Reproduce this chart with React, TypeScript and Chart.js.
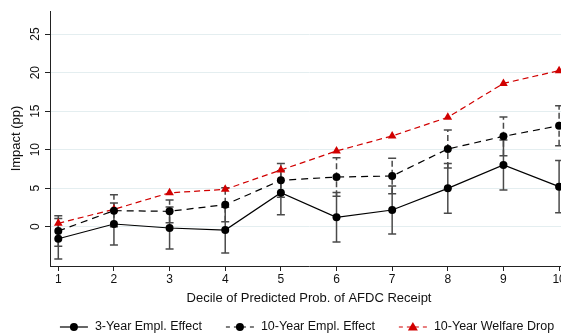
import React, { useEffect, useRef } from 'react';
import { Chart, registerables } from 'chart.js';

Chart.register(...registerables);

const deciles = [1, 2, 3, 4, 5, 6, 7, 8, 9, 10];
const empl3 = [-1.56, 0.35, -0.17, -0.43, 4.42, 1.22, 2.17, 4.98, 8.01, 5.2];
const empl3Lo = [-4.2, -2.38, -2.9, -3.4, 1.56, -2.0, -0.95, 1.74, 4.77, 1.82];
const empl3Hi = [1.08, 3.08, 2.56, 2.54, 7.28, 4.44, 5.29, 8.22, 11.25, 8.58];
const empl10 = [-0.56, 2.08, 2.0, 2.86, 6.02, 6.45, 6.58, 10.09, 11.73, 13.1];
const empl10Lo = [-2.55, 0.0, 0.53, 0.65, 3.84, 3.94, 4.28, 7.62, 9.21, 10.5];
const empl10Hi = [1.43, 4.16, 3.47, 5.07, 8.2, 8.96, 8.88, 12.56, 14.25, 15.7];
const welfare10 = [0.44, 2.26, 4.4, 4.85, 7.36, 9.83, 11.78, 14.2, 18.6, 20.26];
const yTicks = [0, 5, 10, 15, 20, 25];
const seriesNames = ['3-Year Empl. Effect', '10-Year Empl. Effect', '10-Year Welfare Drop'];
const xTitle = 'Decile of Predicted Prob. of AFDC Receipt';
const yTitle = 'Impact (pp)';

const FONT = '"Liberation Sans", Arial, sans-serif';
const RED = '#d10000';
const BLACK = '#000000';

const overlay = {
  id: 'overlay',
  beforeDatasetsDraw(chart: any) {
    const { ctx } = chart;
    const x = chart.scales.x;
    const y = chart.scales.y;
    const drawBars = (lo: number[], hi: number[], dash: number[]) => {
      ctx.save();
      ctx.strokeStyle = '#4a4a4a';
      ctx.lineWidth = 1.5;
      for (let i = 0; i < deciles.length; i++) {
        const px = x.getPixelForValue(deciles[i]);
        const p1 = y.getPixelForValue(lo[i]);
        const p2 = y.getPixelForValue(hi[i]);
        ctx.setLineDash(dash);
        ctx.beginPath();
        ctx.moveTo(px, p1);
        ctx.lineTo(px, p2);
        ctx.stroke();
        ctx.setLineDash([]);
        ctx.beginPath();
        ctx.moveTo(px - 4, p1);
        ctx.lineTo(px + 4, p1);
        ctx.moveTo(px - 4, p2);
        ctx.lineTo(px + 4, p2);
        ctx.stroke();
      }
      ctx.restore();
    };
    drawBars(empl3Lo, empl3Hi, []);
    drawBars(empl10Lo, empl10Hi, [6, 3]);
  },
  afterDraw(chart: any) {
    const { ctx, chartArea } = chart;
    const y = chart.scales.y;
    ctx.save();
    ctx.fillStyle = '#111';
    ctx.font = `12px ${FONT}`;
    ctx.textAlign = 'center';
    ctx.textBaseline = 'middle';
    for (const t of yTicks) {
      const py = y.getPixelForValue(t);
      ctx.save();
      ctx.translate(36, py);
      ctx.rotate(-Math.PI / 2);
      ctx.fillText(String(t), 0, 0);
      ctx.restore();
    }
    // legend
    ctx.font = `12.5px ${FONT}`;
    const styles = [
      { color: BLACK, dash: [] as number[], marker: 'circle' },
      { color: BLACK, dash: [4, 4], marker: 'circle' },
      { color: RED, dash: [4, 4], marker: 'triangle' },
    ];
    const lineLen = 28;
    const gapText = 7;
    const gapItem = 24;
    const widths = seriesNames.map((n) => ctx.measureText(n).width);
    const total = widths.reduce((a, b) => a + b, 0) + seriesNames.length * (lineLen + gapText) + gapItem * (seriesNames.length - 1);
    let cx = (chartArea.left + chartArea.right) / 2 - total / 2 - 2;
    const ly = 327;
    seriesNames.forEach((name, i) => {
      const s = styles[i];
      ctx.strokeStyle = s.color;
      ctx.fillStyle = s.color;
      ctx.lineWidth = 1.2;
      ctx.setLineDash(s.dash);
      ctx.beginPath();
      ctx.moveTo(cx, ly);
      ctx.lineTo(cx + lineLen, ly);
      ctx.stroke();
      ctx.setLineDash([]);
      const mx = cx + lineLen / 2;
      ctx.beginPath();
      if (s.marker === 'circle') {
        ctx.arc(mx, ly, 4, 0, Math.PI * 2);
      } else {
        ctx.moveTo(mx, ly - 5);
        ctx.lineTo(mx + 5, ly + 3.5);
        ctx.lineTo(mx - 5, ly + 3.5);
        ctx.closePath();
      }
      ctx.fill();
      ctx.fillStyle = '#111';
      ctx.textAlign = 'left';
      ctx.fillText(name, cx + lineLen + gapText, ly);
      cx += lineLen + gapText + widths[i] + gapItem;
    });
    ctx.restore();
  },
};

export default function App() {
  const ref = useRef<HTMLCanvasElement>(null);
  useEffect(() => {
    if (!ref.current) return;
    const chart = new Chart(ref.current, {
      type: 'line',
      data: {
        datasets: [
          {
            label: seriesNames[0],
            data: deciles.map((d, i) => ({ x: d, y: empl3[i] })),
            borderColor: BLACK,
            backgroundColor: BLACK,
            borderWidth: 1.2,
            pointRadius: 4,
            pointStyle: 'circle',
            pointBorderWidth: 0,
            tension: 0,
          },
          {
            label: seriesNames[1],
            data: deciles.map((d, i) => ({ x: d, y: empl10[i] })),
            borderColor: BLACK,
            backgroundColor: BLACK,
            borderWidth: 1.2,
            borderDash: [7, 5],
            pointRadius: 4,
            pointStyle: 'circle',
            pointBorderWidth: 0,
            tension: 0,
          },
          {
            label: seriesNames[2],
            data: deciles.map((d, i) => ({ x: d, y: welfare10[i] })),
            borderColor: RED,
            backgroundColor: RED,
            borderWidth: 1.2,
            borderDash: [6, 4],
            pointRadius: 5,
            pointStyle: 'triangle',
            pointBorderWidth: 0,
            tension: 0,
          },
        ],
      },
      options: {
        responsive: false,
        animation: false,
        devicePixelRatio: 1,
        layout: { padding: { left: 0, top: 11, right: 12, bottom: 29 } },
        plugins: { legend: { display: false }, tooltip: { enabled: false } },
        scales: {
          x: {
            type: 'linear',
            min: 0.851,
            max: 10.16,
            afterBuildTicks: (s: any) => {
              s.ticks = deciles.map((v) => ({ value: v }));
            },
            afterFit: (s: any) => {
              s.height = 40;
            },
            ticks: {
              color: '#111',
              font: { family: FONT, size: 12 },
              padding: 1,
              maxRotation: 0,
              callback: (v: any) => String(v),
            },
            grid: { drawOnChartArea: false, drawTicks: true, tickLength: 5, tickColor: '#222' },
            border: { color: '#222', width: 1 },
            title: {
              display: true,
              text: xTitle,
              color: '#111',
              font: { family: FONT, size: 13 },
              padding: { top: 0, bottom: 0 },
            },
          },
          y: {
            type: 'linear',
            min: -5.1,
            max: 28,
            afterBuildTicks: (s: any) => {
              s.ticks = yTicks.map((v) => ({ value: v }));
            },
            afterFit: (s: any) => {
              s.width = 50;
            },
            ticks: { display: false },
            grid: { color: '#e4eef0', lineWidth: 1, drawTicks: true, tickLength: 5, tickColor: '#222' },
            border: { color: '#222', width: 1 },
            title: {
              display: true,
              text: yTitle,
              color: '#111',
              font: { family: FONT, size: 13 },
              padding: { top: 9, bottom: 0 },
            },
          },
        },
      },
      plugins: [overlay],
    });
    return () => chart.destroy();
  }, []);
  return (
    <div style={{ position: 'absolute', left: 0, top: 0, width: 561, height: 335, overflow: 'hidden', background: '#fff' }}>
      <canvas ref={ref} width={580} height={335} style={{ display: 'block' }} />
    </div>
  );
}
